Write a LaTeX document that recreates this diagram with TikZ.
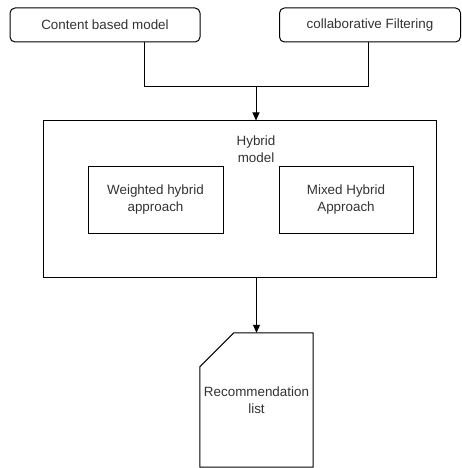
\documentclass[tikz,border=0pt]{standalone}
\usepackage{fontspec}
\setmainfont{Liberation Sans}
\usetikzlibrary{arrows.meta}
\begin{document}
\begin{tikzpicture}[x=1pt,y=-1pt,
  every node/.style={font=\fontsize{13.4}{17}\selectfont, text=black!80, align=center},
  box/.style={draw=black, line width=1pt, inner sep=0pt},
  roundbox/.style={box, rounded corners=5pt},
  link/.style={draw=black, line width=1pt},
  arrowlink/.style={link, -{Triangle[width=7pt,length=8pt]}}]
  \useasboundingbox (0,0) rectangle (461,468);
  \fill[white] (0,0) rectangle (461,468);

  % input models
  \node[roundbox, minimum width=190pt, minimum height=34pt] (cb) at (105,25) {Content based model};
  \node[roundbox, minimum width=181pt, minimum height=34pt] (cf) at (370,25) {collaborative Filtering};

  % hybrid model container
  \node[box, minimum width=393pt, minimum height=156pt] (hyb) at (239.5,199) {};
  \node (hlabel) at (256,149) {Hybrid\\model};
  \node[box, minimum width=135pt, minimum height=67pt] (wh) at (155.5,199.5) {Weighted hybrid\\approach};
  \node[box, minimum width=134pt, minimum height=67pt] (mh) at (346,199.5) {Mixed Hybrid\\Approach};

  % output document with clipped corner
  \node[minimum width=113pt, minimum height=134pt, inner sep=0pt] (doc) at (256.5,400) {Recommendation\\list};
  \draw[line width=1pt] ([xshift=34pt]doc.north west) -- (doc.north east) -- (doc.south east)
     -- (doc.south west) -- ([yshift=-34pt]doc.north west) -- cycle;

  % connectors
  \coordinate (mid) at (256,87);
  \draw[link] ([xshift=39pt]cb.south) |- (mid);
  \draw[link] ([xshift=-2pt]cf.south) |- (mid);
  \draw[arrowlink] (mid) -- (mid |- hyb.north);
  \draw[arrowlink] (hyb.south -| doc.north) -- (doc.north);
\end{tikzpicture}
\end{document}
